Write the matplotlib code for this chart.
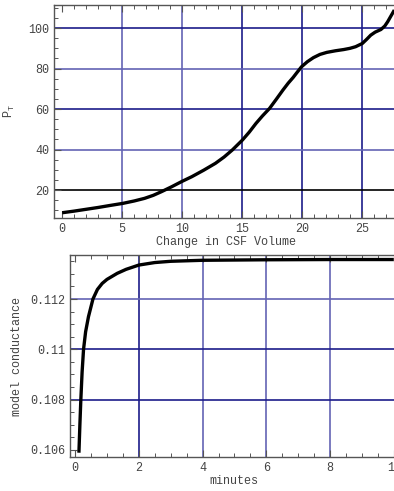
import matplotlib
matplotlib.use('Agg')
import matplotlib.pyplot as plt
from matplotlib.ticker import MultipleLocator

# donnees
vol = [0, 1, 2, 3, 4, 5.04, 6, 6.87, 7.6, 8.28, 9.12, 10, 10.81, 11.8, 12.78, 13.5, 14.19, 15.03, 15.6,
       16.16, 16.7, 17.29, 17.85, 18.41, 18.85, 19.26, 19.6, 19.96, 20.45, 20.95, 21.5, 22.07, 22.8, 23.48,
       24.0, 24.47, 25.03, 25.4, 25.73, 26.1, 26.58, 26.9, 27.14, 27.4, 27.7]
pt = [8.8, 9.6, 10.5, 11.4, 12.4, 13.4, 14.6, 15.9, 17.4, 19.2, 21.6, 24.3, 26.6, 29.8, 33.2, 36.3, 39.8,
      44.7, 48.6, 52.9, 56.6, 60.3, 64.8, 69.4, 72.8, 75.6, 78.2, 80.9, 83.4, 85.4, 87.0, 88.0, 88.8, 89.4,
      90.0, 90.8, 92.4, 94.5, 96.5, 98.0, 99.3, 101.0, 103.1, 105.8, 108.9]

minutes = [0.12, 0.15, 0.18, 0.22, 0.265, 0.33, 0.42, 0.56, 0.7, 0.85, 1.0, 1.32, 1.6, 2.0, 2.5, 3.0, 4.0,
           6.0, 8.0, 10.0]
cond = [0.10589, 0.1070, 0.1080, 0.1091, 0.1100, 0.1107, 0.1113, 0.1120, 0.11238, 0.11262, 0.11278,
        0.11302, 0.11318, 0.11335, 0.11345, 0.11350, 0.11354, 0.11356, 0.11357, 0.11357]

top_xgrid = [5, 10, 15, 20, 25]
top_ygrid = [20, 40, 60, 80, 100]
bot_xgrid = [2, 4, 6, 8]
bot_ygrid = [0.108, 0.11, 0.112]
bot_yticklabels = ['0.106', '0.108', '0.11', '0.112']

NAVY = '#1c1c8a'
LIGHT = '#6464b4'
TXT = '#444444'
FONT = 'Liberation Mono'

plt.rcParams['font.family'] = FONT
plt.rcParams['font.size'] = 8.5

fig = plt.figure(figsize=(3.94, 4.91), dpi=100)
ax1 = fig.add_axes([54/394, 1-218/491, 1-54/394 + 0.01, (218-5)/491])
ax2 = fig.add_axes([70/394, 1-457/491, 1-70/394 + 0.01, (457-255)/491])


def style(ax):
    for s in ['left', 'bottom', 'top']:
        ax.spines[s].set_color('#555555')
        ax.spines[s].set_linewidth(1.0)
    ax.spines['right'].set_visible(False)
    ax.tick_params(which='both', direction='in', top=True, right=False, colors='#555555',
                   labelcolor=TXT, labelsize=8.5)
    ax.tick_params(which='major', length=5, width=0.8)
    ax.tick_params(which='minor', length=3, width=0.7)


# panneau du haut
for g in top_xgrid:
    ax1.axvline(g, color=LIGHT if g < 15 else NAVY, lw=1.2, zorder=1)
for g in top_ygrid:
    c = 'black' if g == 20 else (LIGHT if g in (40, 80) else NAVY)
    ax1.axhline(g, color=c, lw=1.2, zorder=1)
ax1.plot(vol, pt, color='black', lw=2.4, zorder=3, solid_capstyle='butt', solid_joinstyle='round')
ax1.set_xlim(-0.68, 28.0)
ax1.set_ylim(6.2, 111.4)
ax1.set_xticks([0, 5, 10, 15, 20, 25])
ax1.set_yticks([20, 40, 60, 80, 100])
ax1.xaxis.set_minor_locator(MultipleLocator(1))
ax1.yaxis.set_minor_locator(MultipleLocator(5))
style(ax1)
ax1.set_xlabel('Change in CSF Volume', color=TXT, labelpad=1)
ax1.set_ylabel('P$_\\mathregular{T}$', color=TXT, labelpad=8)

# panneau du bas
for g in bot_xgrid:
    ax2.axvline(g, color=NAVY if g == 2 else LIGHT, lw=1.2, zorder=1)
for g in bot_ygrid:
    ax2.axhline(g, color=LIGHT if g == 0.112 else NAVY, lw=1.2, zorder=1)
ax2.plot(minutes, cond, color='black', lw=2.4, zorder=3, solid_capstyle='butt', solid_joinstyle='round')
ax2.set_xlim(-0.16, 10.13)
ax2.set_ylim(0.10572, 0.11375)
ax2.set_xticks([0, 2, 4, 6, 8, 10])
ax2.set_yticks([0.106, 0.108, 0.11, 0.112])
ax2.set_yticklabels(bot_yticklabels)
ax2.xaxis.set_minor_locator(MultipleLocator(0.5))
ax2.yaxis.set_minor_locator(MultipleLocator(0.0005))
style(ax2)
ax2.set_xlabel('minutes', color=TXT, labelpad=1)
ax2.set_ylabel('model conductance', color=TXT, labelpad=5)

fig.savefig('out.png', dpi=100)
